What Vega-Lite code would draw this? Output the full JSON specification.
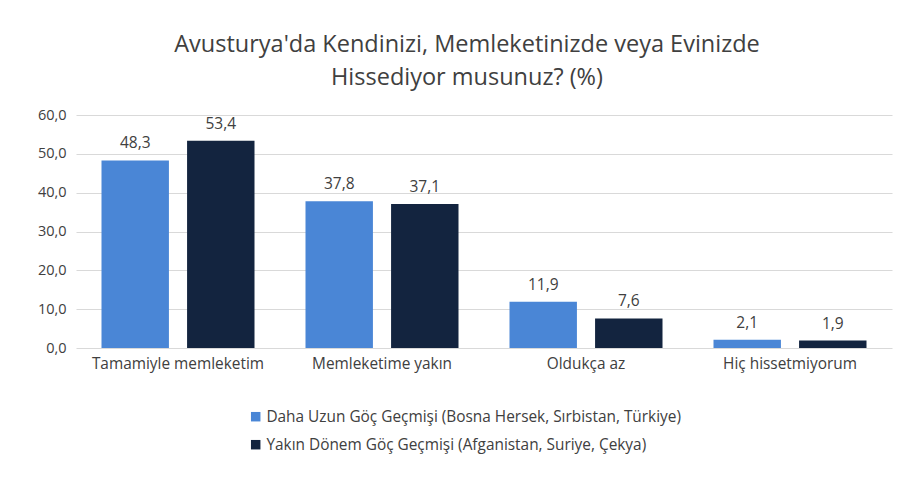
{
  "$schema": "https://vega.github.io/schema/vega-lite/v6.json",
  "width": 816,
  "height": 233,
  "autosize": {"type": "none"},
  "padding": {"left": 76, "top": 115, "right": 18, "bottom": 134},
  "background": "white",
  "title": {
    "text": ["Avusturya'da Kendinizi, Memleketinizde veya Evinizde", "Hissediyor musunuz? (%)"],
    "anchor": "middle",
    "frame": "group",
    "dx": -17,
    "offset": 18,
    "font": "Open Sans",
    "fontSize": 23.5,
    "fontWeight": "normal",
    "color": "#404040",
    "lineHeight": 33
  },
  "config": {
    "locale": {"number": {"decimal": ",", "thousands": ".", "grouping": [3], "currency": ["", ""]}},
    "view": {"stroke": null},
    "font": "Open Sans"
  },
  "data": {
    "values": [
      {"kategori": "Tamamiyle memleketim", "grup": "Daha Uzun Göç Geçmişi (Bosna Hersek, Sırbistan, Türkiye)", "deger": 48.3},
      {"kategori": "Tamamiyle memleketim", "grup": "Yakın Dönem Göç Geçmişi (Afganistan, Suriye, Çekya)", "deger": 53.4},
      {"kategori": "Memleketime yakın", "grup": "Daha Uzun Göç Geçmişi (Bosna Hersek, Sırbistan, Türkiye)", "deger": 37.8},
      {"kategori": "Memleketime yakın", "grup": "Yakın Dönem Göç Geçmişi (Afganistan, Suriye, Çekya)", "deger": 37.1},
      {"kategori": "Oldukça az", "grup": "Daha Uzun Göç Geçmişi (Bosna Hersek, Sırbistan, Türkiye)", "deger": 11.9},
      {"kategori": "Oldukça az", "grup": "Yakın Dönem Göç Geçmişi (Afganistan, Suriye, Çekya)", "deger": 7.6},
      {"kategori": "Hiç hissetmiyorum", "grup": "Daha Uzun Göç Geçmişi (Bosna Hersek, Sırbistan, Türkiye)", "deger": 2.1},
      {"kategori": "Hiç hissetmiyorum", "grup": "Yakın Dönem Göç Geçmişi (Afganistan, Suriye, Çekya)", "deger": 1.9}
    ]
  },
  "encoding": {
    "x": {
      "field": "kategori",
      "type": "nominal",
      "sort": null,
      "scale": {"paddingInner": 0.25, "paddingOuter": 0.125},
      "axis": {
        "title": null,
        "labelAngle": 0,
        "labelFontSize": 15.4,
        "labelColor": "#404040",
        "labelPadding": 8,
        "ticks": false,
        "domain": false
      }
    },
    "xOffset": {
      "field": "grup",
      "type": "nominal",
      "sort": null,
      "scale": {"paddingInner": 0.212, "paddingOuter": 0}
    },
    "y": {
      "field": "deger",
      "type": "quantitative",
      "scale": {"domain": [0, 60]},
      "axis": {
        "title": null,
        "values": [0, 10, 20, 30, 40, 50, 60],
        "format": ".1f",
        "labelFontSize": 14.5,
        "labelColor": "#404040",
        "labelPadding": 10,
        "ticks": false,
        "domain": false,
        "gridColor": "#d9d9d9",
        "gridWidth": 1
      }
    }
  },
  "layer": [
    {
      "mark": {"type": "bar"},
      "encoding": {
        "color": {
          "field": "grup",
          "type": "nominal",
          "sort": null,
          "scale": {"range": ["#4a86d6", "#13243f"]},
          "legend": {
            "title": null,
            "orient": "none",
            "legendX": 172,
            "legendY": 294,
            "direction": "vertical",
            "symbolType": "square",
            "symbolSize": 90,
            "symbolStrokeWidth": 0,
            "labelFontSize": 15.4,
            "labelColor": "#404040",
            "labelLimit": 700,
            "rowPadding": 11,
            "labelOffset": 3
          }
        }
      }
    },
    {
      "mark": {"type": "text", "dy": -17, "fontSize": 15.5, "color": "#404040"},
      "encoding": {
        "text": {"field": "deger", "type": "quantitative", "format": ".1f"}
      }
    }
  ]
}
